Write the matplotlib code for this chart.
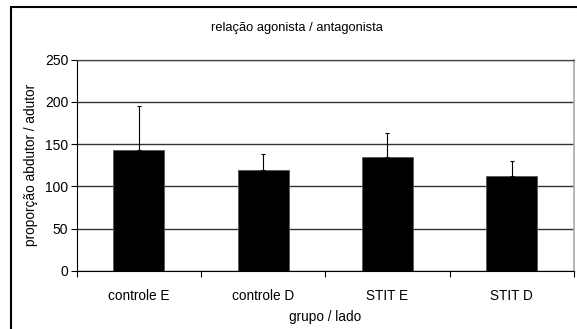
import matplotlib
matplotlib.use('Agg')
import matplotlib.pyplot as plt
from matplotlib.patches import Rectangle

categories = ['controle E', 'controle D', 'STIT E', 'STIT D']
means = [143, 120, 135, 112]
errors = [52, 18, 28, 18]
yticks = [0, 50, 100, 150, 200, 250]

plt.rcParams['font.family'] = ['Liberation Sans', 'DejaVu Sans']

fig = plt.figure(figsize=(5.77, 3.29), dpi=100)
ax = fig.add_axes([0.1326, 0.1763, 0.9948 - 0.1326, 0.819 - 0.1763])

x = list(range(len(categories)))
ax.bar(x, means, width=0.41, color='black', edgecolor='#555555', linewidth=0.6, zorder=3)
ax.errorbar(x, means, yerr=[[0] * len(errors), errors], fmt='none', ecolor='black',
            elinewidth=0.8, capsize=1.6, capthick=0.8, zorder=4)

ax.set_xlim(-0.5, 3.5)
ax.set_ylim(0, 250)
ax.set_yticks(yticks)
ax.set_xticks(x, categories)
ax.set_xticks([-0.5, 0.5, 1.5, 2.5, 3.5], minor=True)
ax.tick_params(axis='x', which='major', length=0, pad=13, labelsize=9.8)
ax.tick_params(axis='x', which='minor', length=4, width=0.8, direction='out')
ax.tick_params(axis='y', length=4, width=0.8, direction='out', labelsize=10, pad=2)
ax.yaxis.grid(True, color='#333333', linewidth=1.0, zorder=0)

ax.spines['left'].set_color('black')
ax.spines['bottom'].set_color('black')
ax.spines['left'].set_linewidth(0.8)
ax.spines['bottom'].set_linewidth(0.8)
ax.spines['top'].set_color('#444444')
ax.spines['top'].set_linewidth(0.9)
ax.spines['right'].set_color('#aaaaaa')
ax.spines['right'].set_linewidth(1.2)

ax.set_xlabel('grupo / lado', fontsize=9.8, labelpad=5)
ax.set_ylabel('proporção abdutor / adutor', fontsize=9.8, labelpad=5)
fig.text(0.514, 1 - 28 / 329, 'relação agonista / antagonista', ha='center', va='center', fontsize=9.3)

fig.add_artist(Rectangle((11 / 577, -0.05), 1.0, 1 - 7.5 / 329 + 0.05, transform=fig.transFigure,
                         fill=False, edgecolor='black', linewidth=1.5))

fig.savefig('out.png', dpi=100)
